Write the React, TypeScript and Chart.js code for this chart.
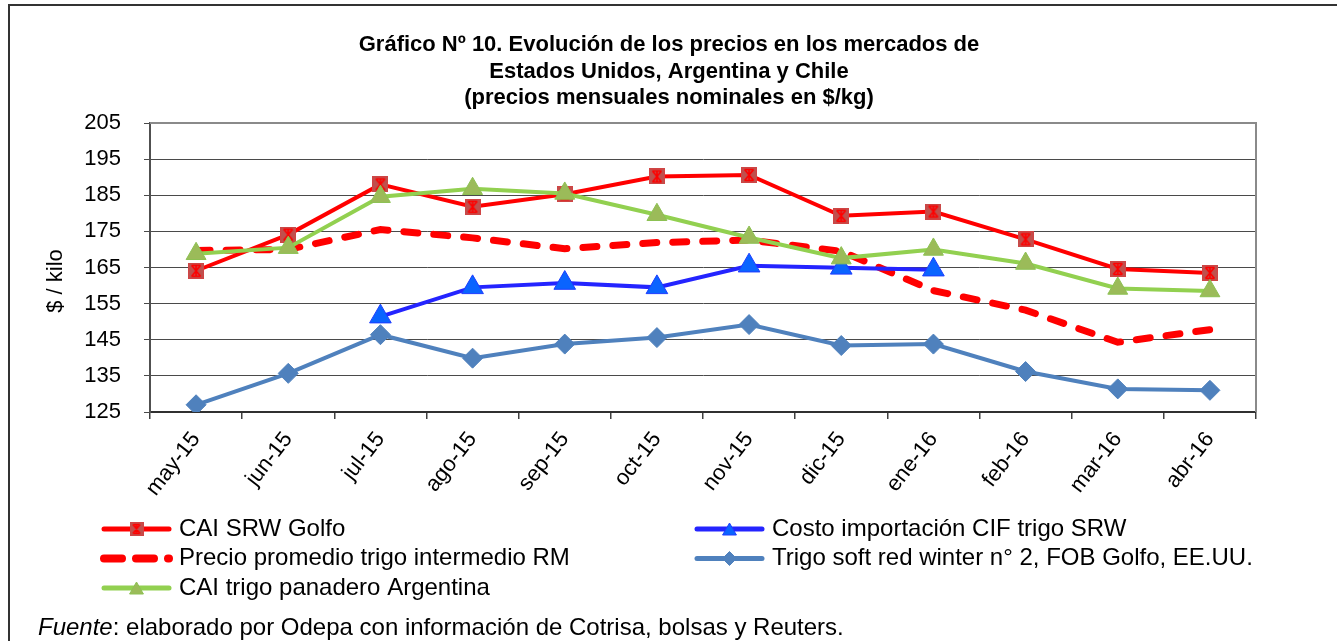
import React, { useEffect, useRef } from 'react';
import { Chart, registerables } from 'chart.js';
import { drawPoint } from 'chart.js/helpers';

Chart.register(...registerables);

const FONT = '"Liberation Sans", Arial, sans-serif';

const months = ['may-15', 'jun-15', 'jul-15', 'ago-15', 'sep-15', 'oct-15', 'nov-15', 'dic-15', 'ene-16', 'feb-16', 'mar-16', 'abr-16'];
const caiSrwGolfo = [164.1, 174.1, 188.0, 181.8, 185.3, 190.2, 190.6, 179.3, 180.5, 172.8, 164.6, 163.5];
const costoCifSrw = [null, null, 151.4, 159.5, 160.7, 159.5, 165.5, 164.9, 164.4, null, null, null];
const precioTrigoRM = [169.7, 170.0, 175.5, 173.2, 170.2, 171.9, 172.6, 169.5, 158.6, 153.2, 144.3, 147.8];
const trigoSrwFob = [127.0, 135.7, 146.4, 139.9, 143.8, 145.6, 149.2, 143.4, 143.8, 136.2, 131.4, 131.0];
const caiArgentina = [168.8, 170.5, 184.6, 186.8, 185.5, 179.6, 173.3, 167.6, 170.0, 166.1, 159.2, 158.5];

const seriesLabels = [
  'CAI SRW Golfo',
  'Costo importación CIF trigo SRW',
  'Precio promedio trigo intermedio RM',
  'Trigo soft red winter n° 2, FOB Golfo, EE.UU.',
  'CAI trigo panadero Argentina',
];

const titleLines = [
  'Gráfico Nº 10. Evolución de los precios en los mercados de',
  'Estados Unidos, Argentina y Chile',
  '(precios mensuales nominales en $/kg)',
];
const yAxisTitle = '$ / kilo';
const yMin = 125;
const yMax = 205;
const yStep = 10;
const sourceItalic = 'Fuente';
const sourceRest = ': elaborado por Odepa con información de Cotrisa, bolsas y Reuters.';

function makeStarSquare(size: number): HTMLCanvasElement {
  const c = document.createElement('canvas');
  c.width = size;
  c.height = size;
  const g = c.getContext('2d')!;
  g.fillStyle = '#C0504D';
  g.fillRect(0, 0, size, size);
  g.strokeStyle = '#D04545';
  g.lineWidth = 1;
  g.strokeRect(0.5, 0.5, size - 1, size - 1);
  g.strokeStyle = '#FF0000';
  g.lineWidth = 1.6;
  const m = 2.5;
  const s = size;
  g.beginPath();
  g.moveTo(s / 2, m); g.lineTo(s / 2, s - m);
  g.moveTo(m + 1, m); g.lineTo(s - m - 1, s - m);
  g.moveTo(s - m - 1, m); g.lineTo(m + 1, s - m);
  g.moveTo(m + 1, m); g.lineTo(s - m - 1, m);
  g.moveTo(m + 1, s - m); g.lineTo(s - m - 1, s - m);
  g.stroke();
  return c;
}

const overlayPlugin = {
  id: 'overlay',
  beforeDatasetsDraw(chart: any) {
    const { ctx, chartArea } = chart;
    ctx.save();
    ctx.strokeStyle = '#8a8a8a';
    ctx.lineWidth = 2;
    ctx.beginPath();
    ctx.moveTo(chartArea.left, chartArea.top);
    ctx.lineTo(chartArea.right, chartArea.top);
    ctx.lineTo(chartArea.right, chartArea.bottom);
    ctx.stroke();
    ctx.restore();
  },
  afterDraw(chart: any) {
    const ctx = chart.ctx as CanvasRenderingContext2D;
    ctx.save();
    // outer frame
    ctx.strokeStyle = '#333';
    ctx.lineWidth = 2;
    ctx.beginPath();
    ctx.moveTo(9, 641);
    ctx.lineTo(9, 5);
    ctx.lineTo(1337, 5);
    ctx.stroke();

    // title
    ctx.fillStyle = '#000';
    ctx.textAlign = 'center';
    ctx.textBaseline = 'middle';
    ctx.font = `bold 22px ${FONT}`;
    titleLines.forEach((t, i) => ctx.fillText(t, 669, 45 + i * 26.5));

    // y axis title
    ctx.save();
    ctx.translate(56, 281);
    ctx.rotate(-Math.PI / 2);
    ctx.font = `22px ${FONT}`;
    ctx.fillText(yAxisTitle, 0, 0);
    ctx.restore();

    // legend
    const colX = [101, 694];
    const rowY = [529, 558.5, 588];
    ctx.textAlign = 'left';
    ctx.font = `24px ${FONT}`;
    chart.data.datasets.forEach((ds: any, i: number) => {
      const x0 = colX[i % 2];
      const y = rowY[Math.floor(i / 2)];
      const len = 71;
      ctx.save();
      ctx.strokeStyle = ds.borderColor;
      ctx.lineWidth = ds.legendLineWidth;
      ctx.lineCap = 'round';
      if (ds.borderDash && ds.borderDash.length) ctx.setLineDash(ds.legendDash);
      ctx.beginPath();
      ctx.moveTo(x0 + 3, y);
      ctx.lineTo(x0 + len - 3, y);
      ctx.stroke();
      ctx.restore();
      if (ds.pointRadius > 0) {
        ctx.save();
        ctx.fillStyle = ds.pointBackgroundColor;
        ctx.strokeStyle = ds.pointBorderColor;
        ctx.lineWidth = 1;
        drawPoint(ctx, { pointStyle: ds.legendPointStyle || ds.pointStyle, radius: ds.legendPointRadius, rotation: 0, borderWidth: 1 } as any, x0 + len / 2, y + (ds.pointStyle === 'triangle' ? 2 : 0));
        ctx.restore();
      }
      ctx.fillStyle = '#000';
      ctx.fillText(ds.label, x0 + 78, y);
    });

    // source note
    ctx.textBaseline = 'middle';
    ctx.font = `italic 24px ${FONT}`;
    ctx.fillText(sourceItalic, 38, 628);
    const w = ctx.measureText(sourceItalic).width;
    ctx.font = `24px ${FONT}`;
    ctx.fillText(sourceRest, 38 + w, 628);
    ctx.restore();
  },
};

export default function App() {
  const ref = useRef<HTMLCanvasElement | null>(null);

  useEffect(() => {
    if (!ref.current) return;
    const starSquare = makeStarSquare(16);
    const starSquareSmall = makeStarSquare(14);
    const chart = new Chart(ref.current, {
      type: 'line',
      data: {
        labels: months,
        datasets: [
          {
            label: seriesLabels[0],
            data: caiSrwGolfo,
            borderColor: '#FF0000',
            borderWidth: 4,
            pointStyle: starSquare as any,
            pointRadius: 8,
            pointBackgroundColor: '#C0504D',
            pointBorderColor: '#FF0000',
            order: 2,
            legendLineWidth: 5,
            legendPointRadius: 7,
            legendPointStyle: starSquareSmall,
          } as any,
          {
            label: seriesLabels[1],
            data: costoCifSrw,
            borderColor: '#2424FF',
            borderWidth: 4,
            pointStyle: 'triangle',
            pointRadius: 12.5,
            pointBackgroundColor: '#0A64FF',
            pointBorderColor: '#1E3CFF',
            pointBorderWidth: 1,
            spanGaps: false,
            order: 1,
            legendLineWidth: 5,
            legendPointRadius: 8,
          } as any,
          {
            label: seriesLabels[2],
            data: precioTrigoRM,
            borderColor: '#FF0000',
            borderWidth: 7,
            borderDash: [14, 16],
            borderCapStyle: 'round',
            pointRadius: 0,
            order: 3,
            legendLineWidth: 8,
            legendDash: [18, 14],
            legendPointRadius: 0,
          } as any,
          {
            label: seriesLabels[3],
            data: trigoSrwFob,
            borderColor: '#4F81BD',
            borderWidth: 4,
            pointStyle: 'rectRot',
            pointRadius: 10,
            pointBackgroundColor: '#4F81BD',
            pointBorderColor: '#4F81BD',
            pointBorderWidth: 1,
            order: 4,
            legendLineWidth: 5,
            legendPointRadius: 7,
          } as any,
          {
            label: seriesLabels[4],
            data: caiArgentina,
            borderColor: '#92D050',
            borderWidth: 4,
            pointStyle: 'triangle',
            pointRadius: 11.5,
            pointBackgroundColor: '#9BBB59',
            pointBorderColor: '#8CC152',
            pointBorderWidth: 1,
            order: 0,
            legendLineWidth: 5,
            legendPointRadius: 8,
          } as any,
        ],
      },
      options: {
        responsive: false,
        animation: false,
        events: [],
        layout: { padding: { left: 43, top: 123, right: 81, bottom: 109 } },
        plugins: {
          legend: { display: false },
          title: { display: false },
          tooltip: { enabled: false },
        },
        scales: {
          x: {
            type: 'category',
            offset: true,
            grid: {
              display: true,
              drawOnChartArea: false,
              drawTicks: true,
              tickLength: 7,
              offset: true,
              color: '#404040',
              lineWidth: 1.5,
            },
            border: { display: true, color: '#303030', width: 2 },
            ticks: {
              color: '#000',
              font: { family: FONT, size: 22 },
              minRotation: 52,
              maxRotation: 52,
              padding: 8,
              autoSkip: false,
            },
            afterFit: (s: any) => { s.height = 120; },
          },
          y: {
            min: yMin,
            max: yMax,
            ticks: {
              stepSize: yStep,
              color: '#000',
              font: { family: FONT, size: 22 },
              padding: 23,
            },
            grid: { color: '#4a4a4a', lineWidth: 1, tickLength: 6, drawTicks: true },
            border: { display: true, color: '#505050', width: 2 },
            title: { display: false, text: yAxisTitle },
            afterFit: (s: any) => { s.width = 107; },
          },
        },
      },
      plugins: [overlayPlugin],
    });
    return () => chart.destroy();
  }, []);

  return (
    <div style={{ position: 'absolute', left: 0, top: 0, width: 1337, height: 641, background: '#fff' }}>
      <canvas ref={ref} width={1337} height={641} style={{ display: 'block' }} />
    </div>
  );
}
